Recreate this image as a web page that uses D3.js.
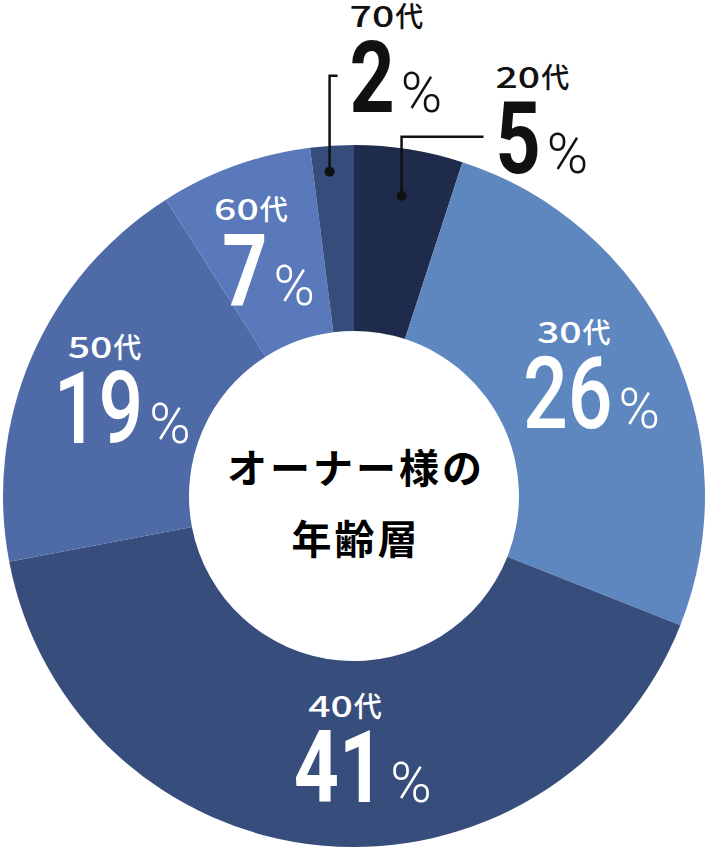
<!DOCTYPE html>
<html><head><meta charset="utf-8">
<script src="https://cdn.jsdelivr.net/npm/d3@7"></script>
<style>html,body{margin:0;padding:0;background:#fff;} svg{display:block;}</style>
</head><body>
<svg id="chart" width="706" height="856"></svg>
<script>
// ---- data ----
const categories = ["20代", "30代", "40代", "50代", "60代", "70代"];
const shares = [5, 26, 41, 19, 7, 2];
const sliceColors = ["#1f2b4b", "#5e87c0", "#374e7c", "#4e6ba8", "#5979ba", "#364d7b"];
const centerTitle = ["オーナー様の", "年齢層"];

// ---- layout ----
const W = 706, H = 856, cx = 354, cy = 496, R = 351, r = 165;
const labelRadius = 258;
const insideLayout = {
  "30代": {dx: 4, dy: -13, weight: 500},
  "40代": {dx: 33, dy: -6, weight: 700},
  "50代": {dx: 5, dy: -6, weight: 500},
  "60代": {dx: 2, dy: -3, weight: 700}
};
const outsideLayout = {
  "20代": {rad: 304, ndx: 0, tdx: 94, tdy: -23},
  "70代": {rad: 325, ndx: -4, tdx: 20, tdy: -60}
};

const svg = d3.select("#chart");
const g = svg.append("g").attr("transform", `translate(${cx},${cy})`);
const data = categories.map((c, i) => ({cat: c, value: shares[i], color: sliceColors[i]}));
const pie = d3.pie().sort(null).value(d => d.value);
const arcs = pie(data);
const arc = d3.arc().innerRadius(r).outerRadius(R);

g.selectAll("path.slice").data(arcs).join("path")
  .attr("class", "slice")
  .attr("d", arc)
  .attr("fill", d => d.data.color);

// center title
g.selectAll("text.title").data(centerTitle).join("text")
  .attr("class", "title")
  .attr("x", 2)
  .attr("y", (d, i) => -13 + i * 71)
  .attr("text-anchor", "middle")
  .attr("font-family", "'Noto Sans CJK JP', sans-serif")
  .attr("font-weight", 700)
  .attr("font-size", 40)
  .attr("letter-spacing", 3)
  .attr("fill", "#000")
  .text(d => d);

// label block: number + % + small category label
function labelBlock(parent, d, color, weight, centeredLabel) {
  const blk = parent.append("g");
  const num = blk.append("text").text(d.data.value)
    .attr("font-family", "Roboto, sans-serif").attr("font-weight", weight)
    .attr("font-size", 101).attr("fill", color)
    .attr("transform", "scale(0.78,1)");
  const numW = num.node().getComputedTextLength() * 0.78;
  const pct = blk.append("text").text("%")
    .attr("x", numW + 6)
    .attr("font-family", "Roboto, sans-serif").attr("font-weight", 300)
    .attr("font-size", 56).attr("fill", color);
  const pctW = pct.node().getComputedTextLength();
  const lab = blk.append("g");
  const digits = d.data.cat.replace("代", "");
  const dt = lab.append("text").text(digits)
    .attr("font-family", "'Noto Sans CJK JP', sans-serif").attr("font-weight", 500)
    .attr("font-size", 29).attr("fill", color)
    .attr("transform", "scale(1.35,1)");
  const dW = dt.node().getComputedTextLength() * 1.35;
  lab.append("text").text("代").attr("x", dW + 1)
    .attr("font-family", "'Noto Sans CJK JP', sans-serif").attr("font-weight", 500)
    .attr("font-size", 28).attr("fill", color);
  const labW = dW + 1 + 28;
  const lx = centeredLabel ? numW / 2 + 6 - labW / 2 : 0;
  lab.attr("transform", `translate(${lx},-85)`);
  return {blk, total: numW + 6 + pctW};
}

const labelArc = d3.arc().innerRadius(labelRadius).outerRadius(labelRadius);
const labels = g.append("g");

arcs.forEach(d => {
  const cat = d.data.cat;
  if (insideLayout[cat]) {
    const L = insideLayout[cat];
    const [ax, ay] = labelArc.centroid(d);
    const b = labelBlock(labels, d, "#fff", L.weight, true);
    b.blk.attr("transform", `translate(${ax + L.dx - b.total / 2},${ay + L.dy + 55})`);
  } else if (outsideLayout[cat]) {
    const L = outsideLayout[cat];
    const dotArc = d3.arc().innerRadius(L.rad).outerRadius(L.rad);
    let [px, py] = dotArc.centroid(d);
    px += L.ndx;
    const tx = px + L.tdx, ty = py + L.tdy;
    const elbowY = ty - 36;
    labels.append("path")
      .attr("d", d3.line()([[px, py], [px, elbowY], [tx - 12, elbowY]]))
      .attr("fill", "none").attr("stroke", "#111").attr("stroke-width", 2.5);
    labels.append("circle").attr("cx", px).attr("cy", py).attr("r", 5).attr("fill", "#111");
    const b = labelBlock(labels, d, "#111", 700, false);
    b.blk.attr("transform", `translate(${tx},${ty})`);
  }
});
</script>
</body></html>
